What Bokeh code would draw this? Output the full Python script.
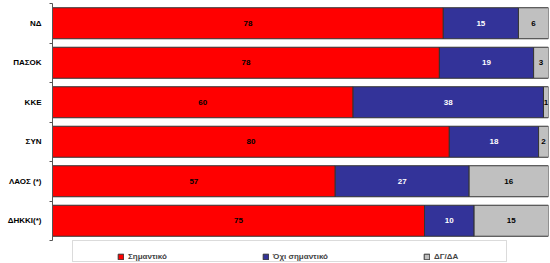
from bokeh.plotting import figure
from bokeh.models import (ColumnDataSource, Range1d, FixedTicker, Legend, LegendItem,
                          BoxAnnotation)
from bokeh.core.properties import value
from bokeh.embed import file_html
from bokeh.resources import INLINE

categories = ["ΝΔ", "ΠΑΣΟΚ", "ΚΚΕ", "ΣΥΝ", "ΛΑΟΣ (*)", "ΔΗΚΚΙ(*)"]
significant = [78, 78, 60, 80, 57, 75]
not_significant = [15, 19, 38, 18, 27, 10]
dk_na = [6, 3, 1, 2, 16, 15]
series_names = ["Σημαντικό", "Όχι σημαντικό", "ΔΓ/ΔΑ"]
colors = ["#FF0000", "#333399", "#C0C0C0"]
text_colors = ["#000000", "#FFFFFF", "#000000"]

FONT = "Liberation Sans"

n = len(categories)
pos = list(range(1, n + 1))
series = [significant, not_significant, dk_na]
totals = [sum(v) for v in zip(*series)]

# frame spans 3..263 px; categories occupy 3..240, legend lives in the rest
p = figure(width=550, height=263, output_backend="svg", toolbar_location=None,
           x_range=Range1d(0, 100), y_range=Range1d(n + 0.5 + 23 / 39.5, 0.5),
           min_border_left=52, min_border_right=2, min_border_top=3, min_border_bottom=0)

p.xaxis.visible = False
p.xgrid.visible = False
p.ygrid.visible = False
p.outline_line_color = None

yax = p.yaxis[0]
yax.bounds = (0.5, n + 0.5)
yax.ticker = FixedTicker(ticks=pos, minor_ticks=[i + 0.5 for i in range(0, n + 1)])
yax.major_label_overrides = {i: c for i, c in zip(pos, categories)}
yax.major_tick_out = 0
yax.major_tick_in = 0
yax.minor_tick_out = 3
yax.minor_tick_in = 0
yax.minor_tick_line_color = "#555555"
yax.axis_line_color = "#555555"
yax.major_label_standoff = 8
yax.major_label_text_font = FONT
yax.major_label_text_font_style = "bold"
yax.major_label_text_font_size = "8px"
yax.major_label_text_color = "#000000"

renderers = []
cum = [0.0] * n
for vals, col, tcol in zip(series, colors, text_colors):
    left = list(cum)
    right = [l + v * 100.0 / t for l, v, t in zip(left, vals, totals)]
    mid = [(l + r) / 2 for l, r in zip(left, right)]
    src = ColumnDataSource(dict(y=pos, left=left, right=right, mid=mid,
                                label=[str(v) for v in vals]))
    r = p.hbar(y="y", left="left", right="right", height=0.785, source=src,
               fill_color=col, line_color="#333333", line_width=1)
    renderers.append(r)
    p.text(x="mid", y="y", text="label", source=src, text_align="center",
           text_baseline="middle", text_color=tcol, text_font=value(FONT),
           text_font_style="bold", text_font_size="8px")
    cum = right

# legend box
box = BoxAnnotation(left=72, right=506, top=240, bottom=261,
                    left_units="canvas", right_units="canvas",
                    top_units="canvas", bottom_units="canvas",
                    fill_color="white", fill_alpha=1.0,
                    line_color="#888888", line_width=1)
p.add_layout(box)

legend = Legend(items=[LegendItem(label=nm, renderers=[r]) for nm, r in zip(series_names, renderers)],
                orientation="horizontal", location=(65, 2),
                glyph_width=7, glyph_height=7, label_standoff=4,
                spacing=95, padding=5, margin=0,
                border_line_color=None, background_fill_alpha=0,
                label_text_font=FONT, label_text_font_style="bold",
                label_text_font_size="8px", label_height=8)
p.add_layout(legend, "center")

open("out.html", "w").write(file_html(p, INLINE))
